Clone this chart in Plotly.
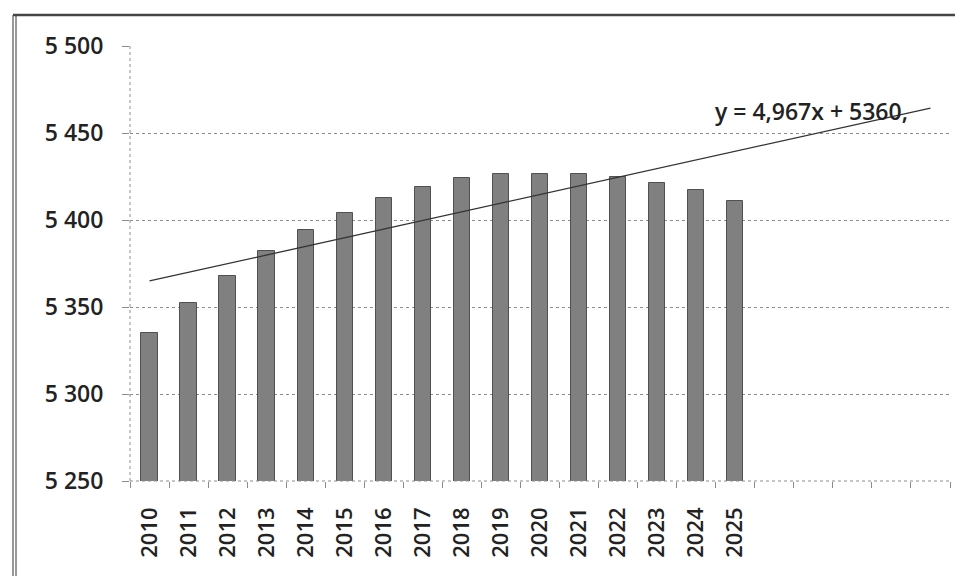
import plotly.graph_objects as go

years = [str(y) for y in range(2010, 2026)]
values = [5335, 5352.5, 5368, 5382, 5394, 5404, 5412.5, 5419, 5424,
          5426.5, 5426.5, 5426.5, 5425, 5421, 5417, 5411]
n_slots = 21  # category slots on the axis (2010..2030, later ones unlabeled)
slope = 4.967
intercept = 5360
equation_label = "y = 4,967x + 5360,"
y_ticks = [5250, 5300, 5350, 5400, 5450, 5500]

FONT = "Open Sans"
TXT = "#222222"
GRID = "#8c8c8c"

xi = list(range(len(values)))
trend_x = list(range(n_slots))
trend_y = [slope * (i + 1) + intercept for i in trend_x]

fig = go.Figure()
fig.add_trace(go.Bar(
    x=xi, y=values, width=0.42,
    marker=dict(color="#808080", line=dict(color="#505050", width=1)),
    showlegend=False, hoverinfo="skip",
))
fig.add_trace(go.Scatter(
    x=trend_x, y=trend_y, mode="lines",
    line=dict(color="#333333", width=1.3),
    showlegend=False, hoverinfo="skip",
))

fig.add_annotation(
    x=14.42, y=5462.5, xref="x", yref="y", text=equation_label,
    showarrow=False, xanchor="left", yanchor="middle",
    font=dict(family=FONT, size=23, color=TXT, weight=600),
)

# axis lines (dotted) and outer frame
fig.add_shape(type="line", xref="paper", yref="paper", x0=0, x1=0, y0=0, y1=1,
              line=dict(color=GRID, width=1, dash="dot"))
fig.add_shape(type="line", xref="paper", yref="paper", x0=0, x1=1, y0=0, y1=0,
              line=dict(color=GRID, width=1, dash="dot"))
fx = (13 - 130) / 820
fy = 1 + (46 - 15) / 435
for d in (0, 3 / 820):
    fig.add_shape(type="line", xref="paper", yref="paper", x0=fx + d, x1=fx + d,
                  y0=fy, y1=-0.3, line=dict(color="#555555", width=1.2))
fig.add_shape(type="line", xref="paper", yref="paper", x0=fx, x1=1.03,
              y0=fy, y1=fy, line=dict(color="#444444", width=2.5))

fig.update_layout(
    width=963, height=576,
    margin=dict(l=122, r=21, t=38, b=103),
    paper_bgcolor="white", plot_bgcolor="white",
    separators=", ",
    font=dict(family=FONT, color=TXT),
    bargap=0,
)
fig.update_xaxes(
    range=[-0.5, n_slots - 0.5],
    tickmode="array", tickvals=xi, ticktext=years, tickangle=-90,
    ticks="", showgrid=False, showline=False, zeroline=False,
    tickfont=dict(family=FONT, size=22, color=TXT, weight=600),
    ticklabelstandoff=21,
    minor=dict(tickmode="linear", tick0=-0.5, dtick=1, ticks="outside",
               ticklen=6, tickcolor=GRID, tickwidth=1, showgrid=False),
)
fig.update_yaxes(
    range=[5250, 5500], tickmode="array", tickvals=y_ticks,
    tickformat=",d",
    ticks="outside", ticklen=7, tickcolor=GRID,
    showgrid=True, gridcolor=GRID, griddash="dot", gridwidth=1,
    showline=False, zeroline=False,
    tickfont=dict(family=FONT, size=23, color=TXT, weight=600),
    ticklabelstandoff=14,
)

fig.write_html("out.html")
